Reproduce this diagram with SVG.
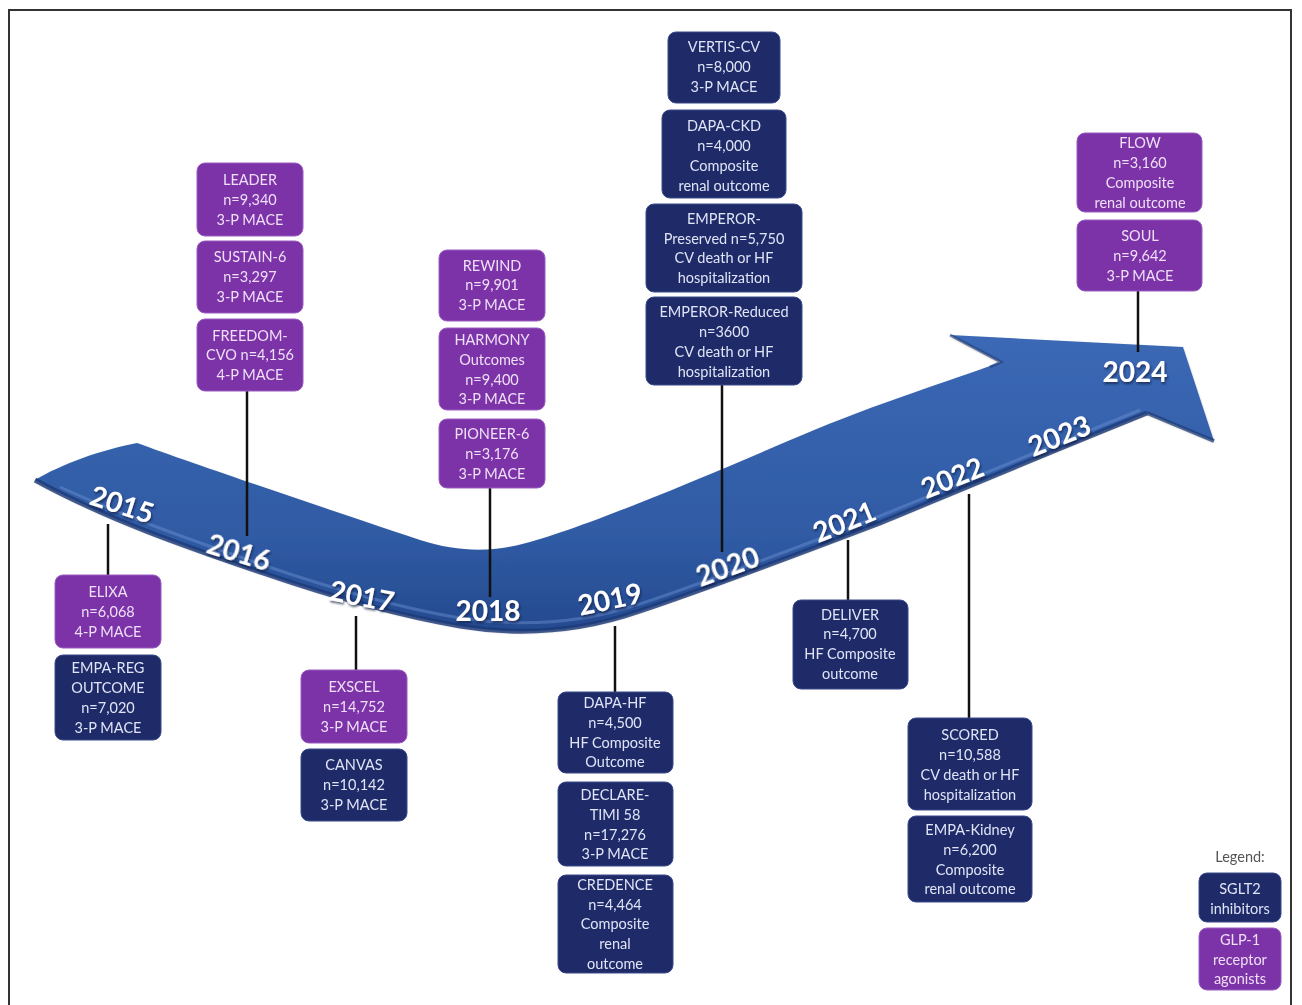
<svg xmlns="http://www.w3.org/2000/svg" width="1302" height="1005" viewBox="0 0 1302 1005">
<defs>
<linearGradient id="rib" x1="0" y1="0" x2="0" y2="1">
<stop offset="0" stop-color="#3c68b5"/>
<stop offset="0.7" stop-color="#2f5aa3"/>
<stop offset="1" stop-color="#244a8f"/>
</linearGradient>
<filter id="sh" x="-10%" y="-10%" width="130%" height="140%">
<feDropShadow dx="1" dy="2" stdDeviation="1.2" flood-color="#0a1a40" flood-opacity="0.7"/>
</filter>
<filter id="bs" x="-10%" y="-10%" width="120%" height="120%">
<feDropShadow dx="0" dy="1.5" stdDeviation="1.2" flood-color="#000" flood-opacity="0.35"/>
</filter>
</defs>
<style>
.p{fill:#7d33a8;stroke:#9a5cc0;stroke-width:1}
.b{fill:#1f2a68;stroke:#3a4a8a;stroke-width:1}
.t{font-family:Lato,"Open Sans","Liberation Sans",sans-serif;font-size:14.5px;text-anchor:middle}
.tp{fill:#eedff7}
.tb{fill:#dfe4f6}
.yr{font-family:Lato,"Open Sans","Liberation Sans",sans-serif;font-size:28px;font-weight:700;fill:#ffffff;text-anchor:middle}
.ln{stroke:#111;stroke-width:2.5;fill:none}
</style>
<rect x="9" y="10" width="1282" height="1100" fill="#ffffff" stroke="#333" stroke-width="2"/>

<g id="ribbon">
<path d="M137,443 C200,466 330,510 420,540 C460,553 495,552 530,542 C600,522 720,470 800,436 C880,402 950,381 1001,362 L950,335 L1183,347 L1214,441 L1147,413 C1050,452 950,494 880,523 C780,561 700,591 640,611 C580,632 520,636 460,626 C400,616 330,596 263,573 C190,548 110,521 35,480 C60,465 100,450 137,443 Z" fill="url(#rib)" filter="url(#bs)"/>
<path d="M35,480 C110,521 190,548 263,573 C330,596 400,616 460,626 C520,636 580,632 640,611 C700,591 780,561 880,523 C950,494 1050,452 1147,413" fill="none" stroke="#1c3a78" stroke-width="5" opacity="0.8"/>
<path d="M60,487 C130,519 200,543 263,565 C330,588 400,608 460,618 C520,627 580,624 640,604 C700,584 780,554 880,516 C950,488 1050,446 1140,410" fill="none" stroke="#6d92d2" stroke-width="3" opacity="0.45"/>
<path d="M950,335 L1001,362 L990,367" fill="none" stroke="#1c3a78" stroke-width="3" opacity="0.6"/>
<path d="M1214,441 L1147,413" fill="none" stroke="#1c3a78" stroke-width="4" opacity="0.7"/>
</g>

<g id="connectors">
<line class="ln" x1="108" y1="524" x2="108" y2="575"/>
<line class="ln" x1="247" y1="391" x2="247" y2="536"/>
<line class="ln" x1="356" y1="616" x2="356" y2="670"/>
<line class="ln" x1="490" y1="488" x2="490" y2="597"/>
<line class="ln" x1="615" y1="626" x2="615" y2="692"/>
<line class="ln" x1="722" y1="385" x2="722" y2="552"/>
<line class="ln" x1="848" y1="540" x2="848" y2="600"/>
<line class="ln" x1="969" y1="494" x2="969" y2="718"/>
<line class="ln" x1="1138" y1="291" x2="1138" y2="352"/>
</g>

<g id="years" filter="url(#sh)">
<text class="yr" transform="translate(119,514) rotate(18)">2015</text>
<text class="yr" transform="translate(236,562) rotate(17)">2016</text>
<text class="yr" transform="translate(360,606) rotate(11)">2017</text>
<text class="yr" transform="translate(488,621)">2018</text>
<text class="yr" transform="translate(612,609) rotate(-12)">2019</text>
<text class="yr" transform="translate(731,576) rotate(-20)">2020</text>
<text class="yr" transform="translate(848,531) rotate(-22)">2021</text>
<text class="yr" transform="translate(956,487) rotate(-22)">2022</text>
<text class="yr" transform="translate(1063,445) rotate(-22)">2023</text>
<text class="yr" transform="translate(1135,382)">2024</text>
</g>

<g id="leader"><rect class="p" x="197" y="163" width="106" height="73" rx="8"/>
<text class="t tp" x="250" y="185">LEADER</text><text class="t tp" x="250" y="205">n=9,340</text><text class="t tp" x="250" y="225">3-P MACE</text></g>
<g id="sustain6"><rect class="p" x="197" y="241" width="106" height="72" rx="8"/>
<text class="t tp" x="250" y="262">SUSTAIN-6</text><text class="t tp" x="250" y="282">n=3,297</text><text class="t tp" x="250" y="302">3-P MACE</text></g>
<g id="freedom"><rect class="p" x="197" y="319" width="106" height="72" rx="8"/>
<text class="t tp" x="250" y="341">FREEDOM-</text><text class="t tp" x="250" y="360">CVO n=4,156</text><text class="t tp" x="250" y="380">4-P MACE</text></g>

<g id="elixa"><rect class="p" x="55" y="575" width="106" height="73" rx="8"/>
<text class="t tp" x="108" y="597">ELIXA</text><text class="t tp" x="108" y="617">n=6,068</text><text class="t tp" x="108" y="637">4-P MACE</text></g>
<g id="empareg"><rect class="b" x="55" y="655" width="106" height="85" rx="8"/>
<text class="t tb" x="108" y="673">EMPA-REG</text><text class="t tb" x="108" y="693">OUTCOME</text><text class="t tb" x="108" y="713">n=7,020</text><text class="t tb" x="108" y="733">3-P MACE</text></g>

<g id="exscel"><rect class="p" x="301" y="670" width="106" height="73" rx="8"/>
<text class="t tp" x="354" y="692">EXSCEL</text><text class="t tp" x="354" y="712">n=14,752</text><text class="t tp" x="354" y="732">3-P MACE</text></g>
<g id="canvas"><rect class="b" x="301" y="749" width="106" height="72" rx="8"/>
<text class="t tb" x="354" y="770">CANVAS</text><text class="t tb" x="354" y="790">n=10,142</text><text class="t tb" x="354" y="810">3-P MACE</text></g>

<g id="rewind"><rect class="p" x="439" y="250" width="106" height="71" rx="8"/>
<text class="t tp" x="492" y="271">REWIND</text><text class="t tp" x="492" y="290">n=9,901</text><text class="t tp" x="492" y="310">3-P MACE</text></g>
<g id="harmony"><rect class="p" x="439" y="328" width="106" height="82" rx="8"/>
<text class="t tp" x="492" y="345">HARMONY</text><text class="t tp" x="492" y="365">Outcomes</text><text class="t tp" x="492" y="385">n=9,400</text><text class="t tp" x="492" y="404">3-P MACE</text></g>
<g id="pioneer6"><rect class="p" x="439" y="419" width="106" height="69" rx="8"/>
<text class="t tp" x="492" y="439">PIONEER-6</text><text class="t tp" x="492" y="459">n=3,176</text><text class="t tp" x="492" y="479">3-P MACE</text></g>

<g id="vertis"><rect class="b" x="668" y="32" width="112" height="71" rx="8"/>
<text class="t tb" x="724" y="52">VERTIS-CV</text><text class="t tb" x="724" y="72">n=8,000</text><text class="t tb" x="724" y="92">3-P MACE</text></g>
<g id="dapackd"><rect class="b" x="662" y="110" width="124" height="88" rx="8"/>
<text class="t tb" x="724" y="131">DAPA-CKD</text><text class="t tb" x="724" y="151">n=4,000</text><text class="t tb" x="724" y="171">Composite</text><text class="t tb" x="724" y="191">renal outcome</text></g>
<g id="emperorp"><rect class="b" x="646" y="204" width="156" height="88" rx="8"/>
<text class="t tb" x="724" y="224">EMPEROR-</text><text class="t tb" x="724" y="244">Preserved n=5,750</text><text class="t tb" x="724" y="263">CV death or HF</text><text class="t tb" x="724" y="283">hospitalization</text></g>
<g id="emperorr"><rect class="b" x="646" y="297" width="156" height="88" rx="8"/>
<text class="t tb" x="724" y="317">EMPEROR-Reduced</text><text class="t tb" x="724" y="337">n=3600</text><text class="t tb" x="724" y="357">CV death or HF</text><text class="t tb" x="724" y="377">hospitalization</text></g>

<g id="dapahf"><rect class="b" x="558" y="692" width="115" height="81" rx="8"/>
<text class="t tb" x="615" y="708">DAPA-HF</text><text class="t tb" x="615" y="728">n=4,500</text><text class="t tb" x="615" y="748">HF Composite</text><text class="t tb" x="615" y="767">Outcome</text></g>
<g id="declare"><rect class="b" x="558" y="782" width="115" height="84" rx="8"/>
<text class="t tb" x="615" y="800">DECLARE-</text><text class="t tb" x="615" y="820">TIMI 58</text><text class="t tb" x="615" y="840">n=17,276</text><text class="t tb" x="615" y="859">3-P MACE</text></g>
<g id="credence"><rect class="b" x="558" y="875" width="115" height="98" rx="8"/>
<text class="t tb" x="615" y="890">CREDENCE</text><text class="t tb" x="615" y="910">n=4,464</text><text class="t tb" x="615" y="929">Composite</text><text class="t tb" x="615" y="949">renal</text><text class="t tb" x="615" y="969">outcome</text></g>

<g id="deliver"><rect class="b" x="793" y="600" width="115" height="89" rx="8"/>
<text class="t tb" x="850" y="620">DELIVER</text><text class="t tb" x="850" y="639">n=4,700</text><text class="t tb" x="850" y="659">HF Composite</text><text class="t tb" x="850" y="679">outcome</text></g>

<g id="scored"><rect class="b" x="908" y="718" width="124" height="92" rx="8"/>
<text class="t tb" x="970" y="740">SCORED</text><text class="t tb" x="970" y="760">n=10,588</text><text class="t tb" x="970" y="780">CV death or HF</text><text class="t tb" x="970" y="800">hospitalization</text></g>
<g id="empakidney"><rect class="b" x="908" y="816" width="124" height="86" rx="8"/>
<text class="t tb" x="970" y="835">EMPA-Kidney</text><text class="t tb" x="970" y="855">n=6,200</text><text class="t tb" x="970" y="875">Composite</text><text class="t tb" x="970" y="894">renal outcome</text></g>

<g id="flow"><rect class="p" x="1077" y="133" width="125" height="79" rx="8"/>
<text class="t tp" x="1140" y="148">FLOW</text><text class="t tp" x="1140" y="168">n=3,160</text><text class="t tp" x="1140" y="188">Composite</text><text class="t tp" x="1140" y="208">renal outcome</text></g>
<g id="soul"><rect class="p" x="1077" y="220" width="125" height="71" rx="8"/>
<text class="t tp" x="1140" y="241">SOUL</text><text class="t tp" x="1140" y="261">n=9,642</text><text class="t tp" x="1140" y="281">3-P MACE</text></g>

<g id="legend">
<text class="t" x="1240" y="862" fill="#555">Legend:</text>
<rect class="b" x="1199" y="873" width="82" height="49" rx="8"/>
<text class="t tb" x="1240" y="894">SGLT2</text><text class="t tb" x="1240" y="914">inhibitors</text>
<rect class="p" x="1199" y="928" width="82" height="62" rx="8"/>
<text class="t tp" x="1240" y="945">GLP-1</text><text class="t tp" x="1240" y="965">receptor</text><text class="t tp" x="1240" y="984">agonists</text>
</g>
</svg>
